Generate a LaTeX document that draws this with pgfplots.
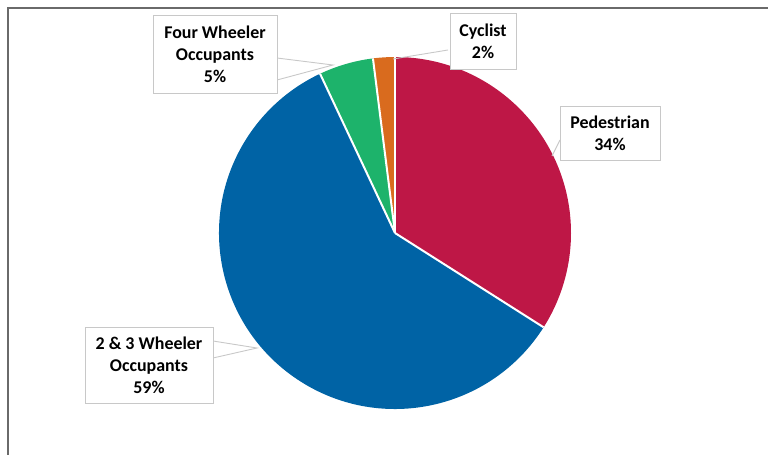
\documentclass[border=0pt]{standalone}
\usepackage{pgfplots}
\pgfplotsset{compat=1.18}
\usepackage{pgfplotstable}
\usepackage{fontspec}
\setmainfont{Carlito}
\definecolor{pedred}{HTML}{BE1746}
\definecolor{twoblue}{HTML}{0063A5}
\definecolor{fourgreen}{HTML}{1DB36B}
\definecolor{cycorange}{HTML}{D96B1E}
\definecolor{frame}{HTML}{6A6A6A}
\definecolor{boxgray}{HTML}{C8C8C8}
\pgfplotstableread{
label value
Pedestrian 34
TwoThree 59
FourWheeler 5
Cyclist 2
}\piedata
\begin{document}
\begin{tikzpicture}
\pgfplotstablegetelem{0}{value}\of\piedata \edef\vA{\pgfplotsretval}
\pgfplotstablegetelem{1}{value}\of\piedata \edef\vB{\pgfplotsretval}
\pgfplotstablegetelem{2}{value}\of\piedata \edef\vC{\pgfplotsretval}
\pgfplotstablegetelem{3}{value}\of\piedata \edef\vD{\pgfplotsretval}
\pgfmathsetmacro\aA{90-3.6*\vA}
\pgfmathsetmacro\aB{\aA-3.6*\vB}
\pgfmathsetmacro\aC{\aB-3.6*\vC}
\pgfmathsetmacro\aD{\aC-3.6*\vD}
\useasboundingbox (0,0) rectangle (768bp,455bp);
\begin{axis}[at={(0,0)}, anchor=origin, x=1bp, y=1bp,
  xmin=0, xmax=768, ymin=0, ymax=455, hide axis, clip=false]
% frame
\draw[frame, line width=2.2bp] (axis cs:8,0) -- (axis cs:8,447) -- (axis cs:768,447);
% slices
\fill[pedred] (axis cs:395,222) -- ++(90:176bp) arc[start angle=90, end angle=\aA, radius=176bp] -- cycle;
\fill[twoblue] (axis cs:395,222) -- ++(\aA:176bp) arc[start angle=\aA, end angle=\aB, radius=176bp] -- cycle;
\fill[fourgreen] (axis cs:395,222) -- ++(\aB:176bp) arc[start angle=\aB, end angle=\aC, radius=176bp] -- cycle;
\fill[cycorange] (axis cs:395,222) -- ++(\aC:176bp) arc[start angle=\aC, end angle=\aD, radius=176bp] -- cycle;
% separators
\draw[white, line width=2bp] (axis cs:395,222) -- ++(90:176bp);
\draw[white, line width=2bp] (axis cs:395,222) -- ++(\aA:176bp);
\draw[white, line width=2bp] (axis cs:395,222) -- ++(\aB:176bp);
\draw[white, line width=2bp] (axis cs:395,222) -- ++(\aC:176bp);
% leader lines
\draw[boxgray, line width=0.9bp] (axis cs:277,397) -- (axis cs:333,390) -- (axis cs:277,375);
\draw[boxgray, line width=0.9bp] (axis cs:448,405) -- (axis cs:393,396);
\draw[boxgray, line width=0.9bp] (axis cs:560,315) -- (axis cs:552,299);
\draw[boxgray, line width=0.9bp] (axis cs:213,114) -- (axis cs:257,107) -- (axis cs:213,97);
% labels
\tikzset{lbl/.style={draw=boxgray, line width=0.8bp, fill=white, align=center, inner sep=0pt,
  font=\bfseries\fontsize{18}{22}\selectfont}}
\node[lbl, minimum width=124bp, minimum height=78bp] at (axis cs:215,401) {Four Wheeler\\Occupants\\\vC\%};
\node[lbl, minimum width=66bp, minimum height=56bp] at (axis cs:483,414) {Cyclist\\\vD\%};
\node[lbl, minimum width=100bp, minimum height=54bp] at (axis cs:610,322) {Pedestrian\\\vA\%};
\node[lbl, minimum width=128bp, minimum height=76bp] at (axis cs:149,90) {2 \& 3 Wheeler\\Occupants\\\vB\%};
\end{axis}
\end{tikzpicture}
\end{document}
